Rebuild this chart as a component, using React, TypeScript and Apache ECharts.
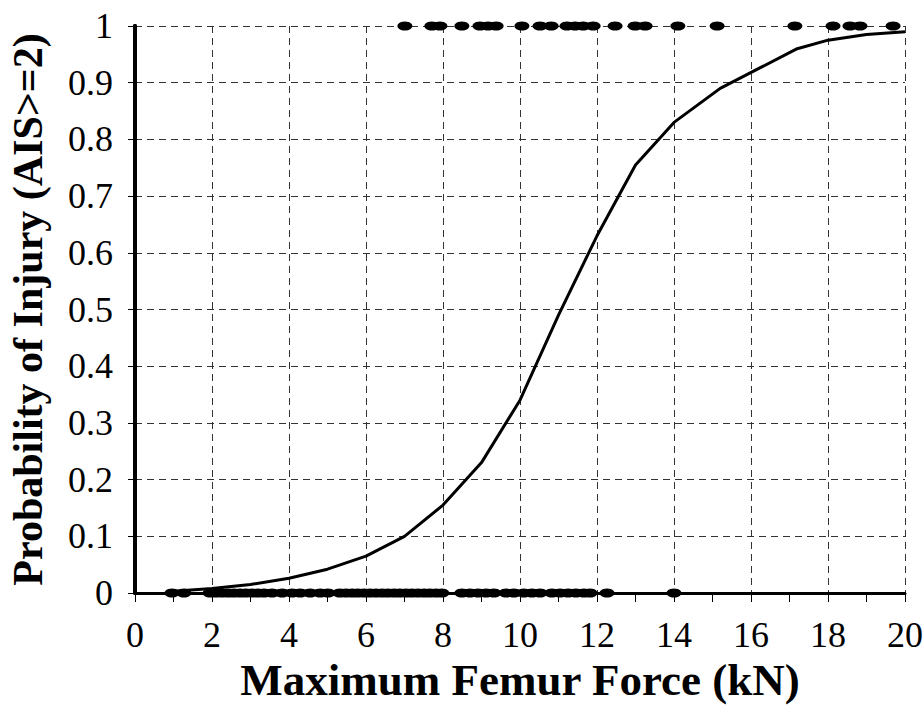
import React, { useEffect, useRef } from "react";
import * as echarts from "echarts";

const topPointsX = [7.01, 7.71, 7.92, 8.49, 8.96, 9.17, 9.38, 10.05, 10.52, 10.81, 11.22, 11.43, 11.64, 11.9, 12.47, 12.99, 13.25, 14.1, 15.12, 17.14, 18.13, 18.57, 18.83, 19.69];
const bottomPointsX = [0.96, 1.27, 1.95, 2.1, 2.26, 2.42, 2.57, 2.73, 2.88, 3.04, 3.19, 3.35, 3.56, 3.82, 4.08, 4.29, 4.55, 4.81, 5.01, 5.32, 5.48, 5.64, 5.79, 5.95, 6.1, 6.26, 6.42, 6.57, 6.73, 6.88, 7.04, 7.19, 7.35, 7.51, 7.66, 7.82, 7.97, 8.49, 8.7, 8.91, 9.12, 9.32, 9.64, 9.84, 10.1, 10.31, 10.52, 10.83, 11.04, 11.25, 11.45, 11.66, 11.82, 12.26, 14.0];
const curveX = [1, 2, 3, 4, 5, 6, 7, 8, 9, 10, 11, 12, 13, 14, 15.2, 17.2, 18, 19, 20];
const curveY = [0.003, 0.008, 0.015, 0.026, 0.042, 0.065, 0.1, 0.155, 0.23, 0.34, 0.49, 0.63, 0.755, 0.83, 0.89, 0.96, 0.975, 0.985, 0.99];

const FONT = "'Liberation Serif', 'Times New Roman', serif";

export default function App() {
  const ref = useRef<HTMLDivElement>(null);
  useEffect(() => {
    document.body.style.margin = "0";
    if (!ref.current) return;
    const chart = echarts.init(ref.current, undefined, { renderer: "svg" });
    const dash = { color: "#333", width: 1, type: [7, 5] as any };
    chart.setOption({
      animation: false,
      backgroundColor: "#fff",
      textStyle: { fontFamily: FONT },
      grid: { left: 135, right: 19, top: 26, bottom: 120, containLabel: false, outerBoundsMode: "none" },
      xAxis: [
        {
          type: "value",
          min: 0,
          max: 20,
          interval: 2,
          name: "Maximum Femur Force (kN)",
          nameLocation: "middle",
          nameGap: 51,
          nameTextStyle: { fontFamily: FONT, fontSize: 45, fontWeight: "bold", color: "#000" },
          axisLine: { show: true, onZero: false, lineStyle: { color: "#000", width: 3 } },
          axisTick: { show: true, length: 9, lineStyle: { color: "#000", width: 1 } },
          minorTick: { show: true, splitNumber: 2, length: 9, lineStyle: { color: "#000", width: 1 } },
          axisLabel: { fontFamily: FONT, fontSize: 36, color: "#000", margin: 24 },
          splitLine: { show: true, lineStyle: dash },
        },
        {
          type: "value",
          position: "top",
          min: 0,
          max: 20,
          axisLine: { show: true, lineStyle: { color: "#000", width: 2 } },
          axisTick: { show: false },
          axisLabel: { show: false },
          splitLine: { show: false },
        },
      ],
      yAxis: [
        {
          type: "value",
          min: 0,
          max: 1,
          interval: 0.1,
          name: "Probability of Injury (AIS>=2)",
          nameLocation: "middle",
          nameGap: 86,
          nameRotate: 90,
          nameTextStyle: { fontFamily: FONT, fontSize: 42, fontWeight: "bold", color: "#000" },
          axisLine: { show: true, onZero: false, lineStyle: { color: "#000", width: 4 } },
          axisTick: { show: true, length: 7, lineStyle: { color: "#000", width: 1 } },
          axisLabel: {
            fontFamily: FONT,
            fontSize: 36,
            color: "#000",
            margin: 22,
            formatter: (v: number) => String(Math.round(v * 10) / 10),
          },
          splitLine: { show: true, lineStyle: dash },
        },
        {
          type: "value",
          position: "right",
          min: 0,
          max: 1,
          axisLine: { show: true, lineStyle: { color: "#000", width: 4 } },
          axisTick: { show: false },
          axisLabel: { show: false },
          splitLine: { show: false },
        },
      ],
      series: [
        {
          type: "line",
          data: curveX.map((x, i) => [x, curveY[i]]),
          showSymbol: false,
          symbol: "none",
          lineStyle: { color: "#000", width: 3 },
          z: 3,
        },
        {
          type: "scatter",
          data: bottomPointsX.map((x) => [x, 0]),
          symbol: "circle",
          symbolSize: [15, 9],
          itemStyle: { color: "#000", opacity: 1 },
          clip: false,
          z: 4,
        },
        {
          type: "scatter",
          data: topPointsX.map((x) => [x, 1]),
          symbol: "circle",
          symbolSize: [15, 9],
          itemStyle: { color: "#000", opacity: 1 },
          clip: false,
          z: 4,
        },
      ],
    });
    return () => chart.dispose();
  }, []);
  return <div ref={ref} style={{ width: 924, height: 713 }} />;
}
